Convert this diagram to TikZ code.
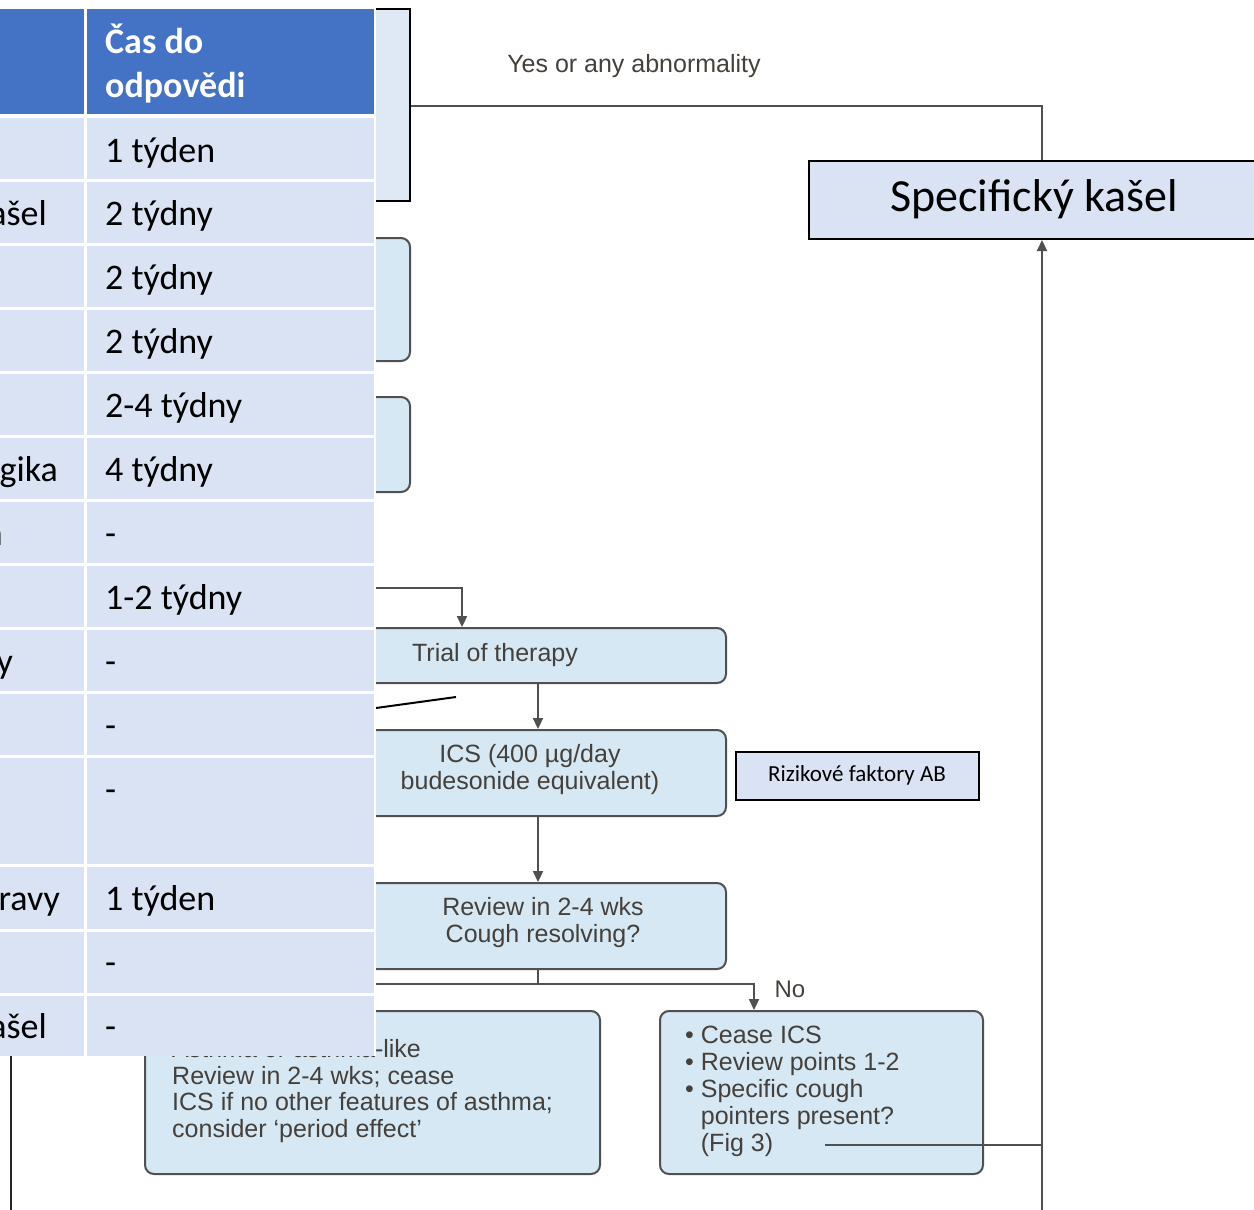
\documentclass[tikz,border=0pt]{standalone}
\usepackage{fontspec}
\setmainfont{Liberation Sans}
\newfontfamily\calibrifont{Carlito}
\usetikzlibrary{arrows.meta}
\definecolor{flowfill}{HTML}{D5E8F3}
\definecolor{topfill}{HTML}{DEE9F5}
\definecolor{flowline}{HTML}{505050}
\definecolor{flowtext}{HTML}{45403B}
\definecolor{hdrblue}{HTML}{4472C4}
\definecolor{cellblue}{HTML}{DAE3F3}
\begin{document}
\begin{tikzpicture}[x=1pt,y=-1pt,
  flowbox/.style={draw=flowline, fill=flowfill, line width=2pt, rounded corners=9pt, anchor=north west, inner sep=0pt},
  sqbox/.style={draw=black, fill=topfill, line width=2.4pt, anchor=north west, inner sep=0pt},
  notebox/.style={draw=black, fill=cellblue, line width=2pt, anchor=north west, inner sep=0pt},
  conn/.style={draw=flowline, line width=2.2pt},
  arr/.style={conn, -{Triangle[length=11pt,width=10pt]}},
  ftext/.style={text=flowtext, font=\fontsize{25}{27}\selectfont, inner sep=0pt},
  tabtext/.style={text=black, font=\calibrifont\fontsize{36}{44}\selectfont, inner sep=0pt},
  hdrtext/.style={text=white, font=\calibrifont\bfseries\fontsize{36}{44}\selectfont, inner sep=0pt}
]
\useasboundingbox (0,0) rectangle (1254,1210);
\clip (0,0) rectangle (1254,1210);
\fill[white] (0,0) rectangle (1254,1210);

% ---------- flowchart (behind the table) ----------
\node[sqbox, minimum width=229pt, minimum height=192pt] (box1) at (180,8) {};
\node[flowbox, minimum width=229pt, minimum height=123pt] (box2) at (180,237) {};
\node[flowbox, minimum width=229pt, minimum height=95pt] (box3) at (180,396) {};
\node[flowbox, minimum width=545pt, minimum height=55pt] (trial) at (180,627) {};
\node[flowbox, minimum width=545pt, minimum height=86pt] (ics) at (180,729) {};
\node[flowbox, minimum width=545pt, minimum height=86pt] (review) at (180,882) {};
\node[flowbox, minimum width=455pt, minimum height=163pt] (leftb) at (144,1010) {};
\node[flowbox, minimum width=323pt, minimum height=163pt] (rightb) at (659,1010) {};
\node[notebox, minimum width=470pt, minimum height=78pt] (spec) at (808,160) {};
\node[notebox, minimum width=243pt, minimum height=48pt] (risk) at (735,751) {};

% texts in boxes
\node[ftext] (trialt) at (495,655) {Trial of therapy};
\node[ftext, align=center] (icst) at (530,770) {ICS (400 µg/day\\budesonide equivalent)};
\node[ftext, align=center] (reviewt) at (543,923) {Review in 2-4 wks\\Cough resolving?};
\node[ftext, align=left, anchor=west, font=\fontsize{25}{26.7}\selectfont] (leftt) at (172,1091)
  {Asthma or asthma-like\\Review in 2-4 wks; cease\\ICS if no other features of asthma;\\consider ‘period effect’};
\node[ftext, align=left, anchor=west] (rightt) at (685,1091)
  {• Cease ICS\\• Review points 1-2\\• Specific cough\\\hphantom{• }pointers present?\\\hphantom{• }(Fig 3)};
\node[text=black, font=\calibrifont\fontsize{46}{50}\selectfont, inner sep=0pt] (spect) at (1034,199) {Specifický kašel};
\node[text=black, font=\calibrifont\fontsize{23}{26}\selectfont, inner sep=0pt] (riskt) at (857,775) {Rizikové faktory AB};
\node[ftext] (yeslbl) at (634,66) {Yes or any abnormality};
\node[ftext, font=\fontsize{24}{26}\selectfont] (nolbl) at (790,989) {No};

% connectors
\coordinate (yesr) at (box1.east |- 0,106);
\coordinate (vx) at (1042,106);
\draw[conn] (yesr) -- (vx) -- (vx |- spec.north);

\coordinate (tl) at (300,588);
\coordinate (tk) at (462,588);
\draw[arr] (tl) -- (tk) -- (tk |- trial.north);

\coordinate (cx) at (538,700);
\draw[arr] (cx |- trial.south) -- (cx |- ics.north);
\draw[arr] (cx |- ics.south) -- (cx |- review.north);

\coordinate (rj) at (538,984);
\coordinate (rl) at (300,984);
\coordinate (rn) at (754,984);
\draw[conn] (cx |- review.south) -- (rj);
\draw[conn] (rl) -- (rj);
\draw[arr] (rj) -- (rn) -- (rn |- rightb.north);

\coordinate (f3) at (825,1145);
\coordinate (vb) at (1042,1215);
\draw[conn] (f3) -- (f3 -| vb);
\draw[arr] (vb) -- (vb |- spec.south);

\coordinate (s1) at (376,708);
\coordinate (s2) at (456,697);
\draw[black, line width=2pt] (s1) -- (s2);

% ---------- table (on top) ----------
\fill[white] (-5,6) rectangle (376,1056);
\fill[hdrblue] (-5,9) rectangle (84,114);
\fill[hdrblue] (87,9) rectangle (374,114);
\foreach \t/\b in {118/179,182/243,246/307,310/371,374/435,438/499,502/563,566/627,630/691,694/755,758/864,867/929,932/993,996/1056}{
  \fill[cellblue] (-5,\t) rectangle (84,\b);
  \fill[cellblue] (87,\t) rectangle (374,\b);
}
\node[hdrtext, anchor=base west] (h1) at (105,53) {Čas do};
\node[hdrtext, anchor=base west] (h2) at (105,97) {odpovědi};
\foreach \bl/\txt [count=\i] in {162/1 týden,225/2 týdny,289/2 týdny,353/2 týdny,417/2-4 týdny,481/4 týdny,545/-,609/1-2 týdny,673/-,737/-,801/-,910/1 týden,974/-,1038/-}{
  \node[tabtext, anchor=base west] (t\i) at (105,\bl) {\txt};
}
\node[tabtext, anchor=base east] (f2) at (47,225) {ašel};
\node[tabtext, anchor=base east] (f6) at (58,481) {gika};
\node[tabtext, anchor=base east] (f7) at (3,545) {n};
\node[tabtext, anchor=base east] (f9) at (13,673) {y};
\node[tabtext, anchor=base east] (f12) at (60,910) {ravy};
\node[tabtext, anchor=base east] (f14) at (47,1038) {ašel};

% left line below the table
\coordinate (l1) at (11,1056);
\coordinate (l2) at (11,1215);
\draw[black!85, line width=2pt] (l1) -- (l2);
\end{tikzpicture}
\end{document}
